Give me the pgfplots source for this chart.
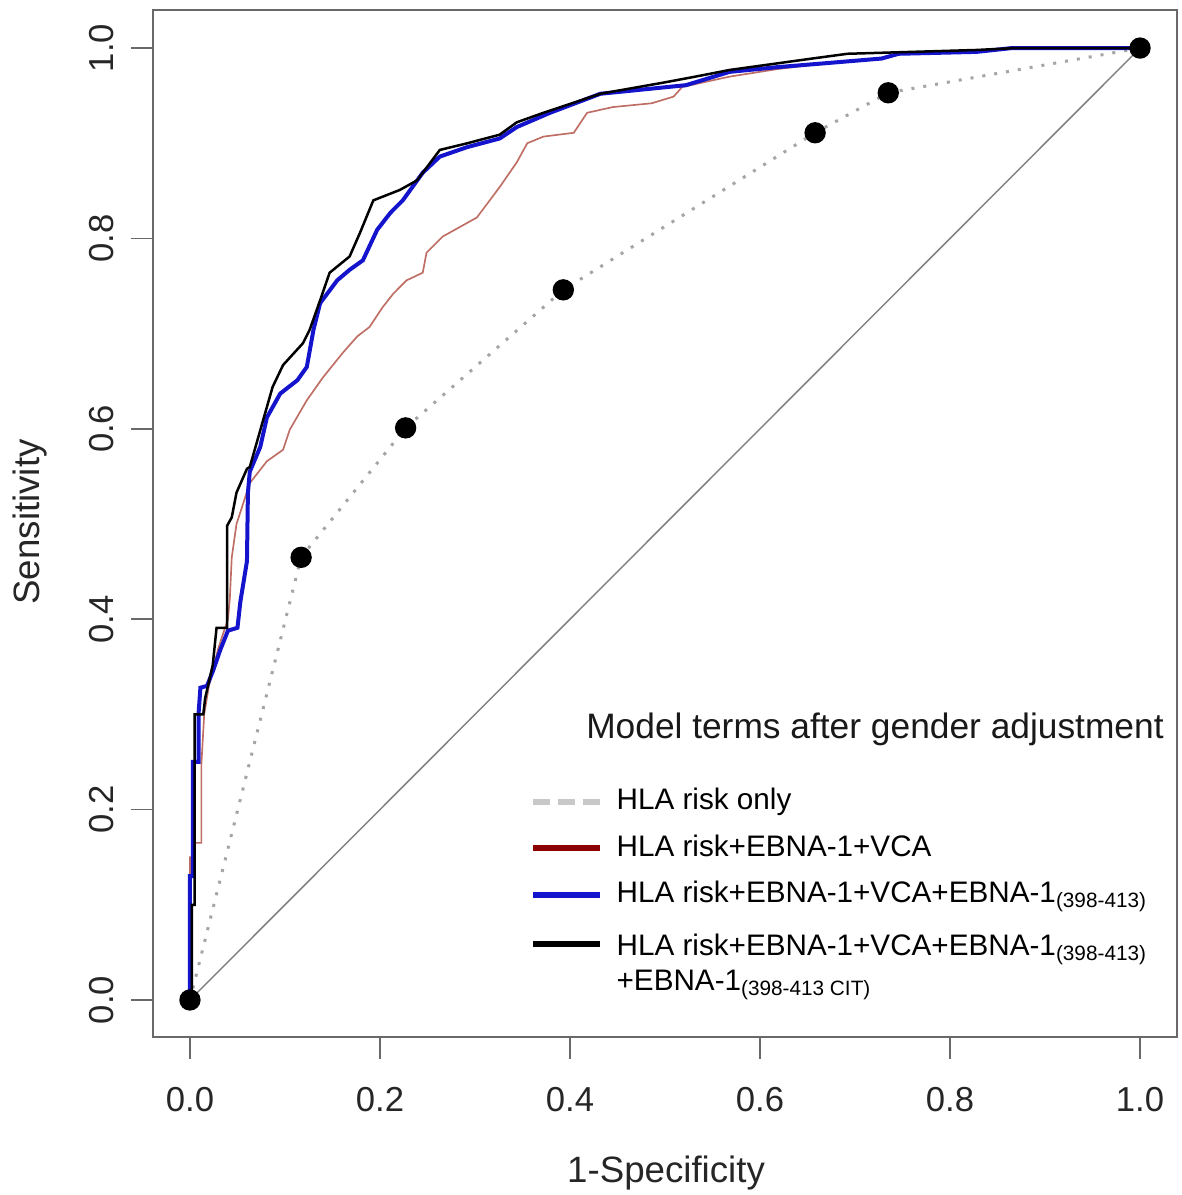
\documentclass[border=0pt]{standalone}
\usepackage{pgfplots}
\pgfplotsset{compat=1.18}
\usepackage{fontspec}
\setmainfont{Liberation Sans}
\definecolor{axgray}{RGB}{105,105,105}
\definecolor{diaggray}{RGB}{130,130,130}
\definecolor{dotgray}{RGB}{165,165,165}
\definecolor{legray}{RGB}{200,200,200}
\definecolor{redline}{RGB}{190,110,100}
\definecolor{legred}{RGB}{139,0,0}
\definecolor{blueline}{RGB}{20,20,205}
\begin{document}
\begin{tikzpicture}
\useasboundingbox (-45.9pt,-47.4pt) rectangle (308.4pt,311.1pt);
\begin{axis}[
  anchor=south west, at={(0pt,0pt)},
  scale only axis, width=307.2pt, height=308.1pt,
  xmin=-0.0389, xmax=1.0389, ymin=-0.0389, ymax=1.04,
  axis line style={axgray, line width=0.5pt},
  xtick={0,0.2,0.4,0.6,0.8,1}, ytick={0,0.2,0.4,0.6,0.8,1},
  xticklabels={0.0,0.2,0.4,0.6,0.8,1.0},
  yticklabels={0.0,0.2,0.4,0.6,0.8,1.0},
  tick align=outside, major tick length=6.5pt,
  tick style={axgray, line width=0.5pt},
  xtick pos=bottom, ytick pos=left,
  ticklabel style={font=\fontsize{10.4}{12}\selectfont, text=black!85},
  /pgf/number format/assume math mode=true,
  yticklabel style={rotate=90},
  xticklabel shift=5pt, yticklabel shift=1.8pt,
  xlabel={1-Specificity}, ylabel={Sensitivity},
  every axis x label/.style={at={(axis description cs:0.501,-0.1324)}, anchor=center, font=\fontsize{11}{13}\selectfont, text=black!85},
  every axis y label/.style={at={(axis description cs:-0.1201,0.5015)}, anchor=center, rotate=90, font=\fontsize{11}{13}\selectfont, text=black!85},
  legend cell align=left,
  legend image code/.code={\draw[#1] (0pt,0pt) -- (20.1pt,0pt);},
  legend style={draw=none, fill=none, at={(axis cs:0.347,0.237)}, anchor=north west,
    font=\fontsize{8.9}{12}\selectfont, row sep=2pt, column sep=2pt},
]
% chance diagonal
\addplot[diaggray, line width=0.45pt, forget plot] coordinates {(0,0) (1,1)};
% HLA risk only
\addplot[dotgray, line width=0.9pt, dash pattern=on 0.9pt off 2.7pt, forget plot] coordinates {
(0,0) (0.117,0.465) (0.227,0.601) (0.393,0.746) (0.658,0.911) (0.735,0.953) (1,1)};
% HLA risk + EBNA-1 + VCA
\addplot[redline, line width=0.5pt, forget plot] coordinates {
(0,0) (0,0.15) (0.002,0.15) (0.002,0.165) (0.012,0.165) (0.012,0.247) (0.015,0.30)
(0.02,0.33) (0.03,0.37) (0.04,0.40) (0.042,0.422) (0.044,0.465) (0.049,0.5)
(0.063,0.543) (0.081,0.566) (0.098,0.578) (0.105,0.599) (0.123,0.630) (0.14,0.654)
(0.161,0.680) (0.176,0.697) (0.189,0.707) (0.203,0.728) (0.214,0.742) (0.228,0.756)
(0.245,0.764) (0.249,0.785) (0.266,0.802) (0.284,0.812) (0.302,0.822) (0.326,0.854)
(0.344,0.88) (0.355,0.900) (0.372,0.907) (0.404,0.911) (0.418,0.932) (0.445,0.938)
(0.486,0.942) (0.509,0.949) (0.518,0.959) (0.545,0.965) (0.568,0.970) (0.619,0.978)
(0.668,0.984) (0.728,0.989) (0.746,0.994) (0.828,0.996) (0.865,1.0) (1,1)};
% + EBNA-1 (398-413)
\addplot[blueline, line width=1.2pt, forget plot] coordinates {
(0,0) (0,0.13) (0.003,0.13) (0.003,0.25) (0.009,0.25) (0.009,0.30) (0.011,0.328)
(0.018,0.33) (0.024,0.345) (0.032,0.368) (0.04,0.388) (0.05,0.391) (0.053,0.418)
(0.06,0.461) (0.061,0.533) (0.063,0.555) (0.074,0.581) (0.081,0.612) (0.095,0.637)
(0.113,0.651) (0.123,0.665) (0.13,0.704) (0.137,0.732) (0.155,0.756) (0.168,0.767)
(0.182,0.777) (0.197,0.809) (0.211,0.827) (0.224,0.840) (0.245,0.869) (0.263,0.886)
(0.292,0.896) (0.326,0.905) (0.344,0.917) (0.379,0.932) (0.432,0.952) (0.522,0.961)
(0.568,0.975) (0.619,0.980) (0.668,0.984) (0.728,0.989) (0.746,0.994) (0.828,0.996)
(0.865,1.0) (1,1)};
% + EBNA-1 (398-413 CIT)
\addplot[black, line width=0.75pt, forget plot] coordinates {
(0,0) (0.002,0) (0.002,0.10) (0.005,0.10) (0.005,0.30) (0.014,0.30) (0.016,0.317)
(0.024,0.352) (0.028,0.391) (0.039,0.391) (0.039,0.498) (0.044,0.507) (0.049,0.533)
(0.06,0.558) (0.063,0.56) (0.087,0.644) (0.098,0.667) (0.119,0.690) (0.126,0.704)
(0.137,0.735) (0.147,0.764) (0.168,0.781) (0.179,0.806) (0.193,0.840) (0.221,0.851)
(0.239,0.861) (0.263,0.893) (0.292,0.900) (0.326,0.909) (0.344,0.922) (0.372,0.932)
(0.432,0.952) (0.5,0.964) (0.532,0.970) (0.568,0.977) (0.655,0.989) (0.692,0.994)
(0.76,0.996) (0.828,0.998) (0.869,1.0) (1,1)};
% HLA risk only points
\addplot[only marks, mark=*, mark size=3pt, black, forget plot] coordinates {
(0,0) (0.117,0.465) (0.227,0.601) (0.393,0.746) (0.658,0.911) (0.735,0.953) (1,1)};
% legend
\addlegendimage{legray, line width=1.8pt, dash pattern=on 5pt off 2.5pt}
\addlegendentry{HLA risk only}
\addlegendimage{legred, line width=1.8pt}
\addlegendentry{HLA risk+EBNA-1+VCA}
\addlegendimage{blueline, line width=1.8pt}
\addlegendentry{HLA risk+EBNA-1+VCA+EBNA-1\textsubscript{(398-413)}}
\addlegendimage{black, line width=1.8pt}
\addlegendentry{\begin{tabular}[t]{@{}l@{}}HLA risk+EBNA-1+VCA+EBNA-1\textsubscript{(398-413)}\\[-1.5pt]+EBNA-1\textsubscript{(398-413 CIT)}\end{tabular}}
\node[font=\fontsize{10.6}{12}\selectfont, text=black!90] at (axis cs:0.721,0.284) {Model terms after gender adjustment};
\end{axis}
\end{tikzpicture}
\end{document}
